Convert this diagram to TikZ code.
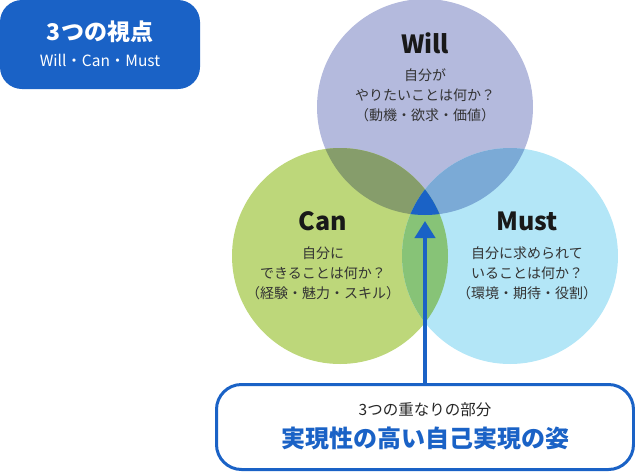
\documentclass[tikz,border=0pt]{standalone}
\usepackage{fontspec}
\setmainfont{Noto Sans CJK JP}
\usepackage{xcolor}
\usepackage{tikz}
\usetikzlibrary{positioning,arrows.meta}
\definecolor{viewblue}{HTML}{1A62C6}
\definecolor{willfill}{HTML}{B4BADD}
\definecolor{canfill}{HTML}{BDD77A}
\definecolor{mustfill}{HTML}{B3E6F7}
\definecolor{wcfill}{HTML}{869D6B}
\definecolor{wmfill}{HTML}{7BAAD6}
\definecolor{cmfill}{HTML}{87C377}
\tikzstyle{circlename}=[font=\fontsize{25}{30}\selectfont\bfseries, text=black!90]
\tikzstyle{circletext}=[align=center, font=\fontsize{14}{20}\selectfont, text=black!80]
\tikzstyle{viewbox}=[rectangle, fill=viewblue, rounded corners=22pt, inner sep=0pt,
        minimum width=200pt, minimum height=89pt]
\tikzstyle{summarybox}=[rectangle, draw=viewblue, line width=3pt, fill=white, rounded corners=25pt,
        inner sep=0pt, minimum width=417pt, minimum height=85pt]
\tikzstyle{arrowline}=[draw=viewblue, line width=4pt, -{Triangle[width=20pt,length=17pt]}]

\begin{document}
\begin{tikzpicture}[x=1pt, y=-1pt]
        \useasboundingbox (0,0) rectangle (635,472);
        \coordinate (will) at (425,107);
        \coordinate (can) at (340,256);
        \coordinate (must) at (510,256);
        % circles
        \fill[willfill] (will) circle (108pt);
        \fill[canfill] (can) circle (108pt);
        \fill[mustfill] (must) circle (108pt);
        % overlaps
        \begin{scope}
          \clip (will) circle (108pt);
          \fill[wcfill] (can) circle (108pt);
          \fill[wmfill] (must) circle (108pt);
        \end{scope}
        \begin{scope}
          \clip (can) circle (108pt);
          \fill[cmfill] (must) circle (108pt);
          \clip (must) circle (108pt);
          \fill[viewblue] (will) circle (108pt);
        \end{scope}

        \node (viewbox) [viewbox] at (100,44.5) {};
        \node (viewtitle) [font=\fontsize{23}{26}\selectfont\bfseries, text=white] at (100,32) {3つの視点};
        \node (viewsub) [font=\fontsize{15.5}{18}\selectfont, text=white] at (100,60) {Will・Can・Must};

        \node (willname) [circlename] at (425,43) {Will};
        \node (willtext) [circletext] at (425,95) {自分が\\やりたいことは何か？\\（動機・欲求・価値）};
        \node (canname) [circlename] at (323,221) {Can};
        \node (cantext) [circletext] at (323,273) {自分に\\できることは何か？\\（経験・魅力・スキル）};
        \node (mustname) [circlename] at (527,221) {Must};
        \node (musttext) [circletext] at (527,273) {自分に求められて\\いることは何か？\\（環境・期待・役割）};

        \node (summary) [summarybox] at (425,427) {};
        \node (summarytop) [font=\fontsize{15.5}{18}\selectfont, text=black!85] at (425,410) {3つの重なりの部分};
        \node (summarymain) [font=\fontsize{24}{28}\selectfont\bfseries, text=viewblue, below=3pt of summarytop] {実現性の高い自己実現の姿};

        \coordinate (core) at (425,221);
        \draw[arrowline] (summary.north) -- (core);
      \end{tikzpicture}
\end{document}
